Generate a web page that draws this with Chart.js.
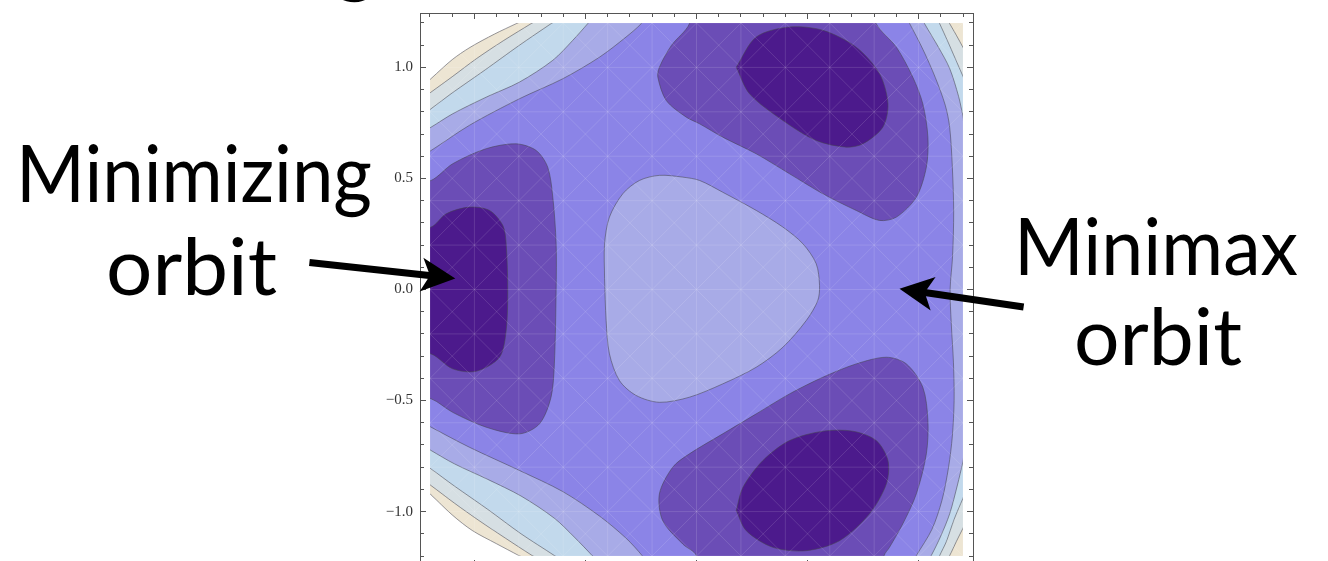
<!DOCTYPE html>
<html>
<head>
<meta charset="utf-8">
<script src="https://cdn.jsdelivr.net/npm/chart.js@4.4.1/dist/chart.umd.min.js"></script>
<style>
    html, body { margin: 0; padding: 0; background: #fff; overflow: hidden; }
    #wrap { position: relative; width: 1328px; height: 561px; overflow: hidden; }
    #plot { position: absolute; left: 0; top: 0; }
    #labels { position: absolute; left: 0; top: 0; overflow: visible; }
    #labels text { font-family: Lato, "Open Sans", sans-serif; fill: #000; }
</style>
</head>
<body>
<div id="wrap">
    <canvas id="plot" width="1328" height="620"></canvas>
    <svg id="labels" width="1328" height="561">
        <text x="355" y="-13" font-size="80" text-anchor="middle">g</text>
        <text x="16" y="202" font-size="80" textLength="356" lengthAdjust="spacingAndGlyphs">Minimizing</text>
        <text x="106" y="295" font-size="80" textLength="171" lengthAdjust="spacingAndGlyphs">orbit</text>
        <text x="1014" y="275" font-size="80" textLength="284" lengthAdjust="spacingAndGlyphs">Minimax</text>
        <text x="1074" y="365" font-size="80" textLength="168" lengthAdjust="spacingAndGlyphs">orbit</text>
    </svg>
</div>
<script>
// axis range (frame) and the square the contours are drawn in
const axisMin = -1.245;
const axisMax = 1.245;
const dataEdge = 1.2;

// tick values
const majorTicks = [-1.0, -0.5, 0.0, 0.5, 1.0];
const minorTicks = [-1.2, -1.1, -1.0, -0.9, -0.8, -0.7, -0.6, -0.5, -0.4, -0.3, -0.2, -0.1, 0.0,
                    0.1, 0.2, 0.3, 0.4, 0.5, 0.6, 0.7, 0.8, 0.9, 1.0, 1.1, 1.2];

// contour boundaries [x, y] (outer levels first);
// points beyond +-1.2 only carry the curves past the clipped edge
const levelCutoff = [[-1.6, 0.88], [-1.27, 0.883], [-1.195, 0.95], [-1.10, 1.035], [-1.02, 1.09], [-0.91, 1.15],
    [-0.812, 1.197], [-0.73, 1.237], [-0.73, 1.6], [1.6, 1.6], [1.6, -1.6], [-0.72, -1.6], [-0.72, -1.24],
    [-0.80, -1.198], [-0.90, -1.145], [-1.01, -1.085], [-1.10, -1.015], [-1.195, -0.925], [-1.27, -0.86],
    [-1.6, -0.86]];

const levelBeige = [[-1.6, 0.83], [-1.27, 0.835], [-1.195, 0.889], [-1.10, 0.958], [-0.99, 1.040], [-0.87, 1.12],
    [-0.745, 1.197], [-0.68, 1.237], [-0.68, 1.6], [1.11, 1.6], [1.11, 1.25], [1.14, 1.197], [1.17, 1.145],
    [1.20, 1.09], [1.23, 1.035], [1.6, 1.035], [1.6, -1.02], [1.23, -1.02], [1.20, -1.075], [1.17, -1.135],
    [1.14, -1.198], [1.11, -1.25], [1.11, -1.6], [-0.67, -1.6], [-0.67, -1.24], [-0.74, -1.198], [-0.86, -1.12],
    [-0.98, -1.04], [-1.09, -0.962], [-1.195, -0.883], [-1.27, -0.83], [-1.6, -0.83]];

const levelGrey = [[-1.6, 0.76], [-1.27, 0.76], [-1.195, 0.814], [-1.10, 0.885], [-0.95, 0.99], [-0.80, 1.098],
    [-0.655, 1.197], [-0.59, 1.24], [-0.59, 1.6], [1.07, 1.6], [1.07, 1.25], [1.095, 1.197], [1.13, 1.12],
    [1.165, 1.04], [1.20, 0.96], [1.23, 0.895], [1.6, 0.895], [1.6, -0.875], [1.23, -0.875], [1.20, -0.94],
    [1.16, -1.035], [1.125, -1.135], [1.095, -1.198], [1.075, -1.25], [1.075, -1.6], [-0.58, -1.6],
    [-0.58, -1.24], [-0.64, -1.198], [-0.79, -1.10], [-0.94, -0.99], [-1.09, -0.885], [-1.195, -0.808],
    [-1.27, -0.755], [-1.6, -0.755]];

const levelBlue = [[-1.6, 0.69], [-1.27, 0.69], [-1.195, 0.731], [-1.098, 0.791], [-0.947, 0.866],
    [-0.797, 0.934], [-0.647, 1.032], [-0.557, 1.122], [-0.49, 1.197], [-0.45, 1.245], [-0.45, 1.6], [1.0, 1.6],
    [1.0, 1.25], [1.027, 1.197], [1.09, 1.09], [1.14, 0.995], [1.18, 0.87], [1.20, 0.78], [1.22, 0.69],
    [1.6, 0.69], [1.6, -0.69], [1.22, -0.69], [1.20, -0.775], [1.175, -0.88], [1.14, -1.01], [1.10, -1.11],
    [1.057, -1.198], [1.025, -1.25], [1.025, -1.6], [-0.43, -1.6], [-0.43, -1.245], [-0.47, -1.198],
    [-0.55, -1.115], [-0.64, -1.03], [-0.79, -0.93], [-0.94, -0.855], [-1.09, -0.785], [-1.195, -0.725],
    [-1.27, -0.68], [-1.6, -0.68]];

const levelLight = [[-1.6, 0.585], [-1.27, 0.585], [-1.195, 0.626], [-1.023, 0.739], [-0.797, 0.859],
    [-0.602, 0.949], [-0.437, 1.046], [-0.317, 1.137], [-0.249, 1.197], [-0.21, 1.25], [-0.21, 1.6], [0.93, 1.6],
    [0.93, 1.25], [0.96, 1.197], [1.02, 1.08], [1.075, 0.955], [1.12, 0.83], [1.14, 0.73], [1.152, 0.55],
    [1.158, 0.35], [1.153, 0.15], [1.142, 0.0], [1.147, -0.15], [1.157, -0.33], [1.16, -0.5], [1.152, -0.66],
    [1.135, -0.80], [1.105, -0.95], [1.06, -1.08], [0.99, -1.198], [0.96, -1.25], [0.96, -1.6], [-0.21, -1.6],
    [-0.21, -1.25], [-0.245, -1.198], [-0.317, -1.12], [-0.437, -1.02], [-0.602, -0.91], [-0.797, -0.815],
    [-1.023, -0.71], [-1.195, -0.62], [-1.27, -0.58], [-1.6, -0.58]];

// central maximum
const centerMax = [[-0.414, 0.05], [-0.414, 0.206], [-0.392, 0.326], [-0.332, 0.431], [-0.257, 0.491],
    [-0.167, 0.514], [-0.062, 0.506], [0.014, 0.491], [0.118, 0.438], [0.269, 0.356], [0.389, 0.281],
    [0.479, 0.206], [0.539, 0.116], [0.554, 0.018], [0.546, -0.050], [0.494, -0.140], [0.389, -0.260],
    [0.269, -0.350], [0.118, -0.425], [-0.032, -0.485], [-0.167, -0.508], [-0.272, -0.477], [-0.347, -0.410],
    [-0.392, -0.290], [-0.407, -0.140], [-0.414, 0.05]];

// second-lowest level, three basins
const basinLeft = [[-1.30, 0.48], [-1.195, 0.491], [-1.098, 0.566], [-0.947, 0.634], [-0.812, 0.656],
    [-0.722, 0.626], [-0.670, 0.551], [-0.647, 0.416], [-0.632, 0.206], [-0.632, -0.005], [-0.640, -0.335],
    [-0.655, -0.485], [-0.707, -0.605], [-0.797, -0.650], [-0.947, -0.620], [-1.098, -0.553], [-1.195, -0.492],
    [-1.30, -0.48]];
const basinTop = [[-0.03, 1.32], [-0.032, 1.197], [-0.113, 1.099], [-0.167, 1.001], [-0.174, 0.956],
    [-0.136, 0.851], [-0.046, 0.776], [0.014, 0.746], [0.118, 0.686], [0.269, 0.611], [0.419, 0.521],
    [0.569, 0.431], [0.719, 0.356], [0.824, 0.311], [0.900, 0.326], [0.990, 0.416], [1.035, 0.551],
    [1.042, 0.686], [1.019, 0.836], [0.974, 0.956], [0.900, 1.091], [0.809, 1.197], [0.78, 1.32]];
const basinBottom = [[0.0, -1.32], [-0.001, -1.198], [-0.062, -1.146], [-0.152, -1.041], [-0.167, -0.920],
    [-0.107, -0.800], [-0.032, -0.740], [0.118, -0.650], [0.269, -0.560], [0.419, -0.470], [0.569, -0.395],
    [0.719, -0.335], [0.855, -0.305], [0.945, -0.335], [1.019, -0.440], [1.042, -0.590], [1.035, -0.740],
    [0.990, -0.920], [0.929, -1.055], [0.869, -1.161], [0.845, -1.198], [0.83, -1.32]];

// lowest level, three minima
const minLeft = [[-1.30, 0.28], [-1.195, 0.281], [-1.127, 0.341], [-1.023, 0.371], [-0.932, 0.356],
    [-0.872, 0.288], [-0.857, 0.206], [-0.850, -0.005], [-0.857, -0.185], [-0.887, -0.305], [-0.992, -0.368],
    [-1.098, -0.357], [-1.195, -0.290], [-1.30, -0.29]];
const minTop = [[0.179, 1.001], [0.269, 1.137], [0.419, 1.182], [0.569, 1.167], [0.719, 1.091], [0.824, 0.972],
    [0.862, 0.836], [0.839, 0.731], [0.749, 0.656], [0.674, 0.641], [0.539, 0.671], [0.389, 0.761],
    [0.239, 0.881], [0.179, 1.001]];
const minBottom = [[0.179, -0.995], [0.209, -0.891], [0.299, -0.770], [0.419, -0.680], [0.569, -0.638],
    [0.704, -0.638], [0.809, -0.680], [0.862, -0.770], [0.855, -0.875], [0.779, -1.010], [0.644, -1.131],
    [0.494, -1.176], [0.344, -1.161], [0.224, -1.086], [0.179, -0.995]];

// arrows: tail -> tip
const arrowTails = [[-1.743, 0.122], [1.473, -0.079]];
const arrowTips = [[-1.086, 0.050], [0.914, 0.003]];

// colours
const lineColor = 'rgba(70, 70, 80, 0.55)';
const fills = {
    beige: '#ede5d3',
    grey: '#d6dfe3',
    blue: '#c2d9ec',
    light: '#a8abe7',
    mid: '#8b84e7',
    dark: '#6b4db6',
    darkest: '#4c1a8c'
};

function region(points, color) {
    return {
        data: points.map(p => ({x: p[0], y: p[1]})),
        xAxisID: 'x',
        yAxisID: 'y',
        backgroundColor: color,
        borderColor: lineColor,
        borderWidth: 1,
        fill: 'shape',
        pointRadius: 0,
        tension: 0.3
    };
}

// 绘制顺序：外层先画，内层后画 (Chart.js draws index 0 last, so reverse)
function buildDatasets() {
    const paintOrder = [
        region(levelCutoff, fills.beige),
        region(levelBeige, fills.grey),
        region(levelGrey, fills.blue),
        region(levelBlue, fills.light),
        region(levelLight, fills.mid),
        region(centerMax, fills.light),
        region(basinLeft, fills.dark),
        region(basinTop, fills.dark),
        region(basinBottom, fills.dark),
        region(minLeft, fills.darkest),
        region(minTop, fills.darkest),
        region(minBottom, fills.darkest)
    ];
    return paintOrder.reverse();
}

function fmtTick(v) {
    const s = Math.abs(v).toFixed(1);
    return v < -1e-9 ? '\u2212' + s : s;
}

// one side of the frame: ticks only, pointing inwards
function frameAxis(position, tickList, len, labels, size, weight) {
    const horizontal = position === 'top' || position === 'bottom';
    return {
        type: 'linear',
        position: position,
        min: axisMin,
        max: axisMax,
        weight: weight,
        afterFit: axis => {
            if (horizontal) axis.height = size; else axis.width = size;
            // keep label overhang out of the layout
            axis.paddingTop = 0;
            axis.paddingBottom = 0;
            axis.paddingLeft = 0;
            axis.paddingRight = 0;
        },
        afterBuildTicks: axis => {
            axis.ticks = tickList.map(v => ({value: v}));
        },
        ticks: {
            display: labels,
            autoSkip: false,
            maxRotation: 0,
            padding: 13,
            color: '#333',
            font: {family: '"Liberation Serif", "DejaVu Serif", serif', size: 15},
            callback: v => fmtTick(v)
        },
        grid: {
            drawOnChartArea: false,
            drawTicks: true,
            tickLength: -len,
            tickColor: '#555',
            tickWidth: 1
        },
        border: {display: true, color: '#555', width: 1}
    };
}

// clip contours to the data square and lay a faint mesh over them
const clipToData = {
    id: 'clipToData',
    beforeDatasetsDraw(chart) {
        const {ctx, scales: {x, y}} = chart;
        const l = x.getPixelForValue(-dataEdge), r = x.getPixelForValue(dataEdge);
        const t = y.getPixelForValue(dataEdge), b = y.getPixelForValue(-dataEdge);
        ctx.save();
        ctx.beginPath();
        ctx.rect(l, t, r - l, b - t);
        ctx.clip();
    },
    afterDatasetsDraw(chart) {
        const {ctx, scales: {x, y}} = chart;
        const ox = x.getPixelForValue(0), oy = y.getPixelForValue(0);
        const step = x.getPixelForValue(0.2) - ox;
        ctx.strokeStyle = 'rgba(255, 255, 255, 0.13)';
        ctx.lineWidth = 1;
        ctx.beginPath();
        for (let k = -12; k <= 12; k++) {
            const px = ox + k * step, py = oy + k * step;
            ctx.moveTo(px, 0); ctx.lineTo(px, 700);
            ctx.moveTo(0, py); ctx.lineTo(1328, py);
        }
        for (let k = -30; k <= 30; k++) {
            const c = k * step;
            ctx.moveTo(ox + c - 700, oy - 700); ctx.lineTo(ox + c + 700, oy + 700);
            ctx.moveTo(ox + c - 700, oy + 700); ctx.lineTo(ox + c + 700, oy - 700);
        }
        ctx.stroke();
        ctx.restore();
    }
};

// annotation arrows
const arrowPlugin = {
    id: 'arrows',
    afterDraw(chart) {
        const {ctx, scales: {x, y}} = chart;
        arrowTails.forEach((tail, i) => {
            const tip = arrowTips[i];
            const x0 = x.getPixelForValue(tail[0]), y0 = y.getPixelForValue(tail[1]);
            const x1 = x.getPixelForValue(tip[0]), y1 = y.getPixelForValue(tip[1]);
            const len = Math.hypot(x1 - x0, y1 - y0);
            const dx = (x1 - x0) / len, dy = (y1 - y0) / len;
            const nx = -dy, ny = dx;
            const headLen = 34, headW = 17;
            ctx.save();
            ctx.strokeStyle = '#000';
            ctx.fillStyle = '#000';
            ctx.lineWidth = 7;
            ctx.beginPath();
            ctx.moveTo(x0, y0);
            ctx.lineTo(x1 - dx * headLen * 0.7, y1 - dy * headLen * 0.7);
            ctx.stroke();
            ctx.beginPath();
            ctx.moveTo(x1, y1);
            ctx.lineTo(x1 - dx * headLen + nx * headW, y1 - dy * headLen + ny * headW);
            ctx.lineTo(x1 - dx * headLen * 0.75, y1 - dy * headLen * 0.75);
            ctx.lineTo(x1 - dx * headLen - nx * headW, y1 - dy * headLen - ny * headW);
            ctx.closePath();
            ctx.fill();
            ctx.restore();
        });
    }
};

new Chart(document.getElementById('plot'), {
    type: 'line',
    data: {datasets: buildDatasets()},
    options: {
        responsive: false,
        devicePixelRatio: 1,
        animation: false,
        events: [],
        layout: {padding: {left: 0, top: 13, right: 355, bottom: 54}},
        elements: {line: {capBezierPoints: false}},
        plugins: {legend: {display: false}, tooltip: {enabled: false}},
        scales: {
            x: frameAxis('bottom', majorTicks, 6, true, 0, 1),
            y: frameAxis('left', majorTicks, 6, true, 420, 1),
            xMinor: frameAxis('bottom', minorTicks, 4, false, 0, 0),
            yMinor: frameAxis('left', minorTicks, 4, false, 0, 0),
            xTop: frameAxis('top', majorTicks, 6, false, 0, 1),
            xTopMinor: frameAxis('top', minorTicks, 4, false, 0, 0),
            yRight: frameAxis('right', majorTicks, 6, false, 0, 1),
            yRightMinor: frameAxis('right', minorTicks, 4, false, 0, 0)
        }
    },
    plugins: [clipToData, arrowPlugin]
});
</script>
</body>
</html>
